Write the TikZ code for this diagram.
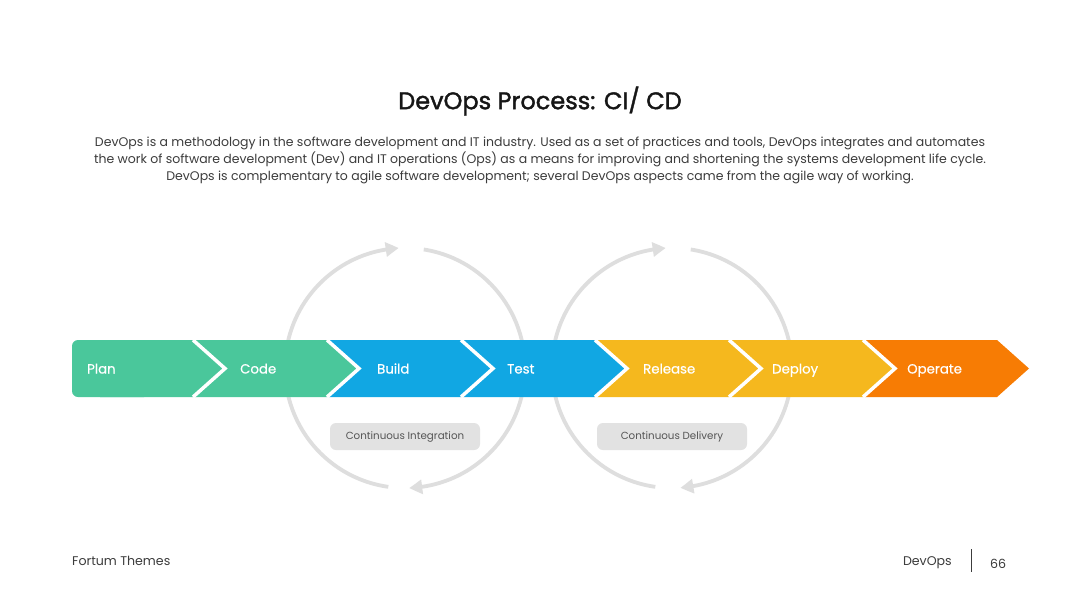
\documentclass[tikz,border=0pt]{standalone}
\usepackage{fontspec}
\setmainfont{Poppins}
\newfontfamily\popmed[FakeBold=1.6]{Poppins}
\newfontfamily\popsemi[FakeBold=0.6]{Poppins}
\usetikzlibrary{arrows.meta,bending}
\definecolor{cgreen}{RGB}{74,199,155}
\definecolor{cblue}{RGB}{17,167,227}
\definecolor{cyellow}{RGB}{245,184,30}
\definecolor{corange}{RGB}{247,124,4}
\definecolor{carc}{RGB}{222,222,222}
\definecolor{cpill}{RGB}{226,226,226}
\definecolor{cpilltext}{RGB}{85,85,85}
\definecolor{cbody}{RGB}{60,60,60}
\definecolor{ctitle}{RGB}{22,22,22}
\tikzset{
  steplabel/.style={text=white,font=\popsemi\fontsize{13.3}{15}\selectfont,anchor=base west,inner sep=0pt},
  loop/.style={draw=carc,line width=3.8pt,-{Triangle[length=13pt,width=14pt,bend]}},
  pill/.style={fill=cpill,rounded corners=6pt,minimum width=150pt,minimum height=27pt,inner sep=0pt,text=cpilltext,font=\fontsize{10.3}{12}\selectfont},
  sep/.style={draw=white,line width=3.5pt},
  foot/.style={text=cbody,font=\fontsize{12.6}{14}\selectfont,inner sep=0pt}
}
\begin{document}
\begin{tikzpicture}[x=1pt,y=-1pt]
\useasboundingbox[fill=white] (0,0) rectangle (1080,608);
% loops (behind bar)
\coordinate (c1) at (405,368);
\coordinate (c2) at (672,368);
\draw[loop] (c1) ++(98:120) arc[start angle=98,end angle=267,radius=120];
\draw[loop] (c1) ++(279:120) arc[start angle=279,end angle=448,radius=120];
\draw[loop] (c2) ++(98:120) arc[start angle=98,end angle=267,radius=120];
\draw[loop] (c2) ++(279:120) arc[start angle=279,end angle=446,radius=120];
% chevrons
\fill[cgreen,rounded corners=6pt] (72,340) rectangle (150,397);
\fill[cgreen] (100,340) -- (193,340) -- (225,368.5) -- (193,397) -- (100,397) -- cycle;
\fill[cgreen] (193,340) -- (327,340) -- (359,368.5) -- (327,397) -- (193,397) -- (225,368.5) -- cycle;
\fill[cblue] (327,340) -- (461,340) -- (493,368.5) -- (461,397) -- (327,397) -- (359,368.5) -- cycle;
\fill[cblue] (461,340) -- (595,340) -- (627,368.5) -- (595,397) -- (461,397) -- (493,368.5) -- cycle;
\fill[cyellow] (595,340) -- (729,340) -- (761,368.5) -- (729,397) -- (595,397) -- (627,368.5) -- cycle;
\fill[cyellow] (729,340) -- (863,340) -- (895,368.5) -- (863,397) -- (729,397) -- (761,368.5) -- cycle;
\fill[corange] (863,340) -- (997,340) -- (1029,368.5) -- (997,397) -- (863,397) -- (895,368.5) -- cycle;
\foreach \r in {193,327,461,595,729,863}{
  \draw[sep] (\r,340) -- (\r+32,368.5) -- (\r,397);
}
\node[steplabel] (plan) at (87,373.5) {Plan};
\node[steplabel] (code) at (240,373.5) {Code};
\node[steplabel] (build) at (377,373.5) {Build};
\node[steplabel] (test) at (507,373.5) {Test};
\node[steplabel] (release) at (643,373.5) {Release};
\node[steplabel] (deploy) at (772,373.5) {Deploy};
\node[steplabel] (operate) at (907,373.5) {Operate};
% pills
\node[pill] (ci) at (405,436.5) {Continuous Integration};
\node[pill] (cd) at (672,436.5) {Continuous Delivery};
% title and text
\node[text=ctitle,font=\popmed\fontsize{24}{28}\selectfont,inner sep=0pt] (title) at (540,101) {DevOps Process: CI/ CD};
\node[text=cbody,font=\fontsize{12.5}{17}\selectfont,align=center,inner sep=0pt] (body) at (540,160) {DevOps is a methodology in the software development and IT industry. Used as a set of practices and tools, DevOps integrates and automates\\the work of software development (Dev) and IT operations (Ops) as a means for improving and shortening the systems development life cycle.\\DevOps is complementary to agile software development; several DevOps aspects came from the agile way of working.};
% footer
\node[foot,anchor=base west] (brand) at (72,565) {Fortum Themes};
\node[foot,anchor=base east] (topic) at (952,565) {DevOps};
\node[foot,anchor=base west] (page) at (990,568) {66};
\coordinate (lt) at (971,549);
\coordinate (lb) at (971,572);
\draw[draw=cbody,line width=0.8pt] (lt) -- (lb);
\end{tikzpicture}
\end{document}
